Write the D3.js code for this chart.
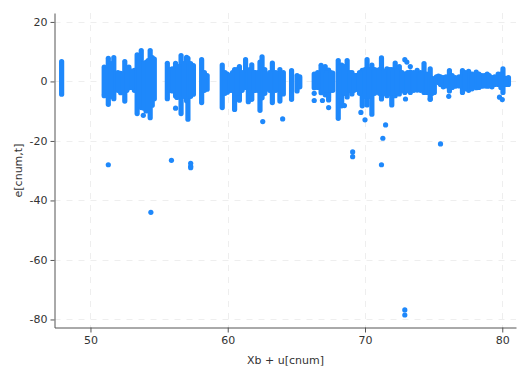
<!DOCTYPE html>
<html>
<head>
<meta charset="utf-8">
<script src="https://cdn.jsdelivr.net/npm/d3@7"></script>
<style>
  body {margin: 0; background: #fff;}
  text {font-family: 'DejaVu Sans', sans-serif;}
</style>
</head>
<body>
<div id="graph"></div>
<script>
var xTicks = [50, 60, 70, 80]
var yTicks = [20, 0, -20, -40, -60, -80]

// runs of overlapping points: x, lowest, highest
var stackX = [47.9, 51.0, 51.3, 51.7, 52.2, 52.5, 52.8, 53.2, 53.4, 53.7, 54.05, 54.35, 54.5, 54.65,
  55.6, 55.95, 56.2, 56.6, 57.0, 57.1, 57.5,
  58.1, 58.5, 59.6, 59.97, 60.2, 60.5, 60.85, 61.3, 61.5, 61.75, 62.0, 62.35, 62.5, 62.85, 63.25, 63.8, 64.05, 64.65, 65.05, 65.25,
  66.3, 66.8, 67.1, 67.35, 67.65, 68.05, 68.3, 68.7, 69.05, 69.35,
  69.4, 69.8, 70.15, 70.5, 70.85, 71.2, 71.6, 71.95, 72.2, 72.5, 72.9, 73.3, 73.8, 74.3, 74.5, 74.75, 75.05,
  75.35, 75.7, 76.15, 76.57, 77.1, 77.55, 78.1, 78.5, 78.9, 79.25, 79.7, 80.05, 80.45]
var stackLow = [-4.3, -4.2, -7.7, -5.8, -3.8, -6.6, -2.1, -3, -10.8, -8.8, -9.9, -12.2, -8, -5.8,
  -5.8, -3.2, -4.9, -10.8, -6.5, -12.7, -4.3,
  -7.1, -2.6, -8.8, -3.6, -3, -9.4, -6.3, -2, -6.8, -6, -3, -9.7, -5.5, -2, -7.1, -6.6, -4.2, -6, -3.2, -1.8,
  -2.1, -3.8, -4.5, -5.6, -3, -12.4, -8.2, -5.2, -4.2, -2.6,
  -2.6, -8.2, -7.9, -11, -3.2, -5.9, -4.8, -7.9, -4.8, -4.2, -3.7, -3.7, -2.9, -3.7, -3.7, -6, -3.7,
  -0.4, -1.8, -3.2, -1.6, -3.7, -3, -2.1, -1.6, -1.6, -1.8, -1.0, -3.7, -1.0]
var stackHigh = [6.7, 4.8, 7.8, 8, 2.7, 6.7, 4.8, 3.7, 8.9, 10.4, 6.4, 10.4, 8, 7.5,
  6.1, 4.2, 6.1, 8.7, 8.1, 7.8, 5.3,
  7.3, 2, 5.5, 2.5, 2, 4, 5, 7.3, 3, 5.6, 3, 6.5, 8.3, 2, 6.2, 4, 3, 3.6, 2, 1.5,
  2.5, 5.4, 5, 3.8, 2.8, 7, 5.5, 7, 3, 2,
  2, 3.7, 7.3, 5.5, 3.7, 7.9, 4.2, 4, 6.2, 5, 2.5, 3.1, 3.7, 6, 2.5, 4.2, 0,
  1.8, 1.3, 3.6, 1.3, 3.6, 3.4, 3.1, 2, 2.5, 1.3, 2.5, 4.2, 1.3]

// shorter runs in between the tall ones
var fillX = [51.15, 51.5, 52.0, 52.35, 52.65, 53.0, 53.55, 53.9, 54.2,
  55.8, 56.05, 56.4, 56.8, 57.3,
  58.3, 59.8, 60.35, 60.68, 61.05, 61.6, 61.9, 62.2, 62.7, 63.05, 63.5,
  66.55, 66.95, 67.2, 67.5, 68.18, 68.5, 68.9, 69.2, 69.6, 70.0, 70.3, 70.7, 71.05, 71.4, 71.8, 72.05, 72.35, 72.7, 73.1, 73.55, 74.05, 74.9,
  75.2, 75.5, 75.9, 76.35, 76.85, 77.3, 77.8, 78.3, 78.7, 79.05, 79.45, 79.9, 80.25]
var fillLow = [-4, -5, -3, -3.5, -3, -2, -8, -9, -9,
  -3, -3, -4, -5, -5,
  -3, -4, -3, -4, -3, -4, -3, -3, -4, -3, -3,
  -2, -3, -3, -3, -5, -4, -3, -3, -4, -5, -5, -4, -4, -4, -4, -4, -3.5, -3, -3, -3, -3, -4,
  0, -1, -1.5, -2, -1.5, -2.5, -2.5, -2, -1.5, -1.5, -1, -2, -1]
var fillHigh = [4, 6, 3, 2.5, 4, 3.5, 8, 6, 7,
  4, 4, 5, 6, 6,
  3, 3, 3, 4, 3, 4, 3, 3, 4, 3, 3,
  3, 4, 3, 3, 5, 5, 3, 2, 3, 4, 4, 4, 4, 3.5, 4, 3.5, 3.5, 3, 3, 3, 3, 1,
  1.5, 1.5, 1.5, 2, 1.5, 3, 2.5, 2.5, 2, 2, 1.5, 2.5, 1]

// separate points
var pointX = [53.85, 56.2, 56.3, 51.0, 51.3, 54.4, 55.9, 57.3, 57.3, 57.3,
  62.55, 64.0, 66.3, 66.3, 66.9, 67.35, 67.35, 68.5,
  69.7, 70.0, 71.5, 71.3, 72.9, 73.05, 73.3, 72.95, 74.75, 76.1, 79.8, 80.0,
  69.1, 69.1, 71.2, 75.5, 72.9, 72.9]
var pointY = [-11.4, -9.0, -5.4, -4.8, -28, -44, -26.5, -27.5, -28.5, -29,
  -13.5, -12.6, -4, -6.4, -6.4, -6.2, -8.8, -8.1,
  -10.4, -12.9, -14.6, -19.1, 7.3, 6.5, 5, -5.9, -5.9, -5, -5.3, -6.1,
  -23.7, -25.3, -28, -21, -76.8, -78.5]

var xLabel = 'Xb + u[cnum]'
var yLabel = 'e[cnum,t]'
var blue = '#1e88fb'

var width = 528, height = 384
var svg = d3.select('#graph').append('svg')
  .attr('width', width).attr('height', height)

var x = d3.scaleLinear().domain([47.38, 81]).range([54.5, 516])
var y = d3.scaleLinear().domain([-82.7, 23]).range([327.5, 13])

// dashed grid
var gridStyle = sel => sel
  .attr('stroke', '#eeeeee').attr('stroke-width', 1).attr('stroke-dasharray', '6 6')

svg.append('g').selectAll('line').data(xTicks).join('line')
  .attr('x1', d => Math.round(x(d)) + .5).attr('x2', d => Math.round(x(d)) + .5)
  .attr('y1', y.range()[1]).attr('y2', y.range()[0])
  .call(gridStyle)

svg.append('g').selectAll('line').data(yTicks).join('line')
  .attr('y1', d => Math.round(y(d)) + .5).attr('y2', d => Math.round(y(d)) + .5)
  .attr('x1', x.range()[0]).attr('x2', x.range()[1])
  .call(gridStyle)

// marks
var drawRuns = (xs, lows, highs) => svg.append('g').selectAll('line').data(xs).join('line')
  .attr('x1', d => x(d)).attr('x2', d => x(d))
  .attr('y1', (d, i) => y(lows[i])).attr('y2', (d, i) => y(highs[i]))
  .attr('stroke', blue).attr('stroke-width', 5.2).attr('stroke-linecap', 'round')

drawRuns(stackX, stackLow, stackHigh)
drawRuns(fillX, fillLow, fillHigh)

svg.append('g').selectAll('circle').data(pointX).join('circle')
  .attr('cx', d => x(d)).attr('cy', (d, i) => y(pointY[i]))
  .attr('r', 2.6).attr('fill', blue)

// axes
var styleAxis = g => {
  g.selectAll('.domain').attr('stroke', '#555')
  g.selectAll('.tick line').attr('stroke', '#555')
  g.selectAll('.tick text').attr('fill', '#333').attr('font-size', 11)
    .attr('font-family', "'DejaVu Sans', sans-serif")
}
var minus = d => String(d)

svg.append('g').attr('transform', 'translate(0,327.5)')
  .call(d3.axisBottom(x).tickValues(xTicks).tickFormat(minus).tickSize(5).tickSizeOuter(0).tickPadding(4))
  .call(styleAxis)

svg.append('g').attr('transform', 'translate(54.5,0)')
  .call(d3.axisLeft(y).tickValues(yTicks).tickFormat(minus).tickSize(4).tickSizeOuter(0).tickPadding(3))
  .call(styleAxis)

svg.append('text').text(xLabel)
  .attr('x', 285.5).attr('y', 364).attr('text-anchor', 'middle')
  .attr('font-size', 11).attr('fill', '#333')

svg.append('text').text(yLabel)
  .attr('transform', 'translate(21.5,170.5) rotate(-90)').attr('text-anchor', 'middle')
  .attr('font-size', 11).attr('fill', '#333')
</script>
</body>
</html>
